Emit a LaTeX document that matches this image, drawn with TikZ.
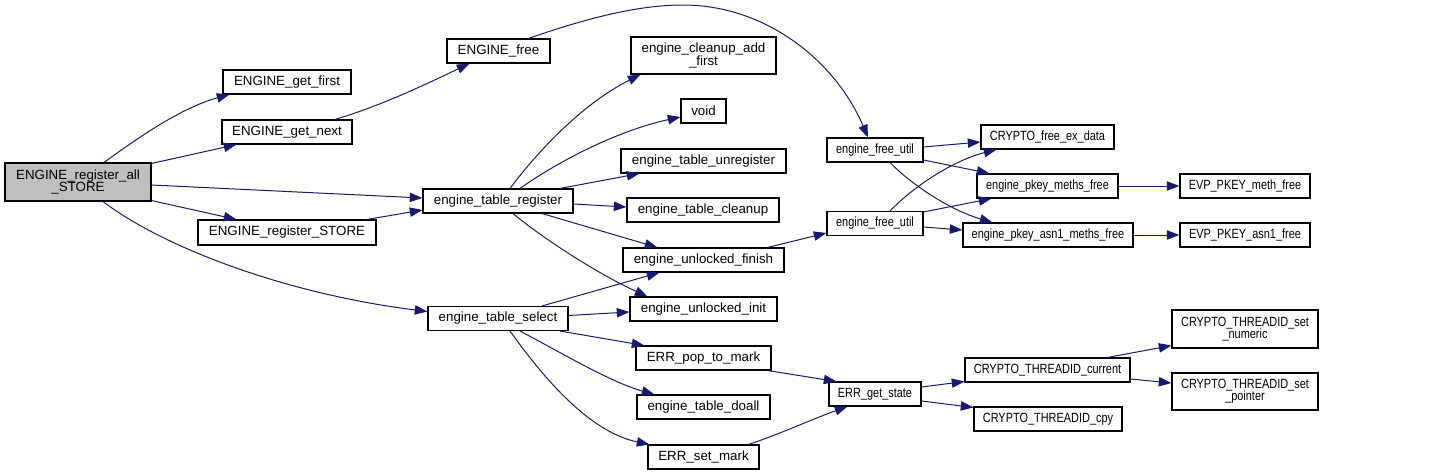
\documentclass[tikz,border=0pt]{standalone}
\usepackage{fontspec}
\setmainfont{Liberation Sans}
\newfontfamily\narrowfont[FakeStretch=0.82]{Liberation Sans}
\usetikzlibrary{arrows.meta,calc}
\definecolor{edgeblue}{RGB}{25,25,112}
\definecolor{rootgray}{RGB}{191,191,191}
\begin{document}
\begin{tikzpicture}[x=0.75pt,y=-0.75pt,
  box/.style={draw=black, line width=0.8pt, fill=white, inner sep=0pt, align=center,
    font=\fontsize{10}{9.6}\selectfont},
  nbox/.style={box, font={\fontsize{10}{9.3}\narrowfont}},
  sz/.style 2 args={minimum width=#1*0.75pt, minimum height=#2*0.75pt},
  edge/.style={draw=edgeblue, line width=0.75pt, -{Triangle[length=9.5pt,width=7pt]}}]
\useasboundingbox (0,0) rectangle (1436,475);
% nodes
\node[box, sz={146}{38}, fill=rootgray] (all) at (78,182) {ENGINE\_register\_all\\\_STORE};
\node[box, sz={128}{24}] (getfirst) at (287,82) {ENGINE\_get\_first};
\node[box, sz={130}{24}] (getnext) at (287,132) {ENGINE\_get\_next};
\node[box, sz={178}{25}] (regstore) at (287,232.5) {ENGINE\_register\_STORE};
\node[box, sz={103}{24}] (free) at (498.5,51) {ENGINE\_free};
\node[box, sz={150}{24}] (treg) at (498,201) {engine\_table\_register};
\node[box, sz={140}{24}] (tsel) at (498,318.5) {engine\_table\_select};
\node[box, sz={145}{37}] (cleanadd) at (703.5,55.5) {engine\_cleanup\_add\\\_first};
\node[box, sz={45}{24}] (void) at (703.5,111) {void};
\node[box, sz={165}{24}] (unreg) at (703.5,161) {engine\_table\_unregister};
\node[box, sz={152}{24}] (tclean) at (703,210) {engine\_table\_cleanup};
\node[box, sz={161}{24}] (ufinish) at (703.5,260) {engine\_unlocked\_finish};
\node[box, sz={147}{24}] (uinit) at (703.5,309) {engine\_unlocked\_init};
\node[box, sz={135}{24}] (popmark) at (703.5,358) {ERR\_pop\_to\_mark};
\node[box, sz={133}{24}] (doall) at (703.5,407) {engine\_table\_doall};
\node[box, sz={111}{24}] (setmark) at (703.5,457) {ERR\_set\_mark};
\node[nbox, sz={96}{24}] (futilA) at (875,150) {engine\_free\_util};
\node[nbox, sz={96}{24}] (futilB) at (875,223.5) {engine\_free\_util};
\node[nbox, sz={92}{24}] (getstate) at (875,394) {ERR\_get\_state};
\node[nbox, sz={133}{24}] (exdata) at (1047.5,137) {CRYPTO\_free\_ex\_data};
\node[nbox, sz={141}{24}] (pmeths) at (1047.5,186) {engine\_pkey\_meths\_free};
\node[nbox, sz={170}{24}] (ameths) at (1048,235) {engine\_pkey\_asn1\_meths\_free};
\node[nbox, sz={165}{24}] (tcur) at (1047.5,370) {CRYPTO\_THREADID\_current};
\node[nbox, sz={148}{24}] (tcpy) at (1048,419) {CRYPTO\_THREADID\_cpy};
\node[nbox, sz={130}{24}] (mfree) at (1245,186) {EVP\_PKEY\_meth\_free};
\node[nbox, sz={130}{24}] (afree) at (1245,235) {EVP\_PKEY\_asn1\_free};
\node[nbox, sz={146}{38}] (setnum) at (1245,329) {CRYPTO\_THREADID\_set\\\_numeric};
\node[nbox, sz={146}{37}] (setptr) at (1245,391.5) {CRYPTO\_THREADID\_set\\\_pointer};
% edges
\draw[edge] ($(all.north)+(26,0)$) .. controls (135,140) and (180,108) .. ($(getfirst.south west)+(7,0)$);
\draw[edge] ($(all.north east)+(0,1)$) -- ($(getnext.south west)+(15,0)$);
\draw[edge] ($(all.east)+(0,3)$) -- ($(treg.west)+(0,-3)$);
\draw[edge] ($(all.south east)+(0,-1)$) -- ($(regstore.north west)+(39,0)$);
\draw[edge] ($(all.south)+(25,0)$) .. controls (160,245) and (280,293) .. ($(tsel.west)+(0,-7)$);
\draw[edge] ($(getnext.north)+(48,0)$) .. controls (380,106) and (420,87) .. ($(free.south west)+(23,0)$);
\draw[edge] ($(free.north)+(30,0)$) .. controls (590,17) and (640,5) .. (683,5) .. controls (765,5) and (835,60) .. ($(futilA.north)+(-7,0)$);
\draw[edge] ($(regstore.north)+(80,0)$) -- ($(treg.west)+(0,9)$);
\draw[edge] ($(treg.north)+(12,0)$) .. controls (535,155) and (580,105) .. ($(cleanadd.south west)+(10,0)$);
\draw[edge] ($(treg.north)+(22,0)$) .. controls (560,160) and (620,130) .. ($(void.west)+(0,6)$);
\draw[edge] ($(treg.north)+(62,0)$) -- ($(unreg.south west)+(19,0)$);
\draw[edge] ($(treg.east)+(0,3)$) -- ($(tclean.west)+(0,-3)$);
\draw[edge] ($(treg.south)+(44,0)$) -- ($(ufinish.north west)+(35,0)$);
\draw[edge] ($(treg.south)+(15,0)$) .. controls (545,240) and (600,275) .. ($(uinit.north west)+(18,0)$);
\draw[edge] ($(tsel.north)+(44,0)$) -- ($(ufinish.south west)+(37,0)$);
\draw[edge] ($(tsel.east)+(0,-3)$) -- ($(uinit.west)+(0,3)$);
\draw[edge] ($(tsel.south)+(62,0)$) -- ($(popmark.north west)+(9,0)$);
\draw[edge] ($(tsel.south)+(22,0)$) .. controls (560,352) and (610,382) .. ($(doall.north west)+(18,0)$);
\draw[edge] ($(tsel.south)+(12,0)$) .. controls (545,380) and (590,432) .. ($(setmark.north west)+(2,0)$);
\draw[edge] ($(popmark.south east)+(-4,0)$) -- ($(getstate.north west)+(8,0)$);
\draw[edge] ($(setmark.north east)+(-11,0)$) .. controls (780,434) and (815,418) .. ($(getstate.south west)+(19,0)$);
\draw[edge] ($(ufinish.north east)+(-17,0)$) -- ($(futilB.west)+(0,9.5)$);
\draw[edge] ($(futilA.east)+(0,-3)$) -- ($(exdata.west)+(0,5)$);
\draw[edge] ($(futilA.east)+(0,10)$) -- ($(pmeths.north west)+(13,0)$);
\draw[edge] ($(futilA.south)+(15,0)$) .. controls (912,185) and (950,210) .. ($(ameths.north west)+(30,0)$);
\draw[edge] ($(futilB.north)+(15,0)$) .. controls (915,185) and (955,160) .. ($(exdata.south west)+(16,0)$);
\draw[edge] ($(futilB.north east)+(0,1)$) -- ($(pmeths.south west)+(15,0)$);
\draw[edge] ($(futilB.east)+(0,3.5)$) -- ($(ameths.west)+(0,-5)$);
\draw[edge] (pmeths.east) -- (mfree.west);
\draw[edge] (ameths.east) -- (afree.west);
\draw[edge] ($(getstate.east)+(0,-7)$) -- ($(tcur.south west)+(0,-1)$);
\draw[edge] ($(getstate.east)+(0,7)$) -- ($(tcpy.north west)+(0,1)$);
\draw[edge] ($(tcur.north east)+(-23,0)$) -- ($(setnum.south west)+(0,-3)$);
\draw[edge] ($(tcur.east)+(0,9)$) -- ($(setptr.west)+(0,-8.5)$);
\end{tikzpicture}
\end{document}
